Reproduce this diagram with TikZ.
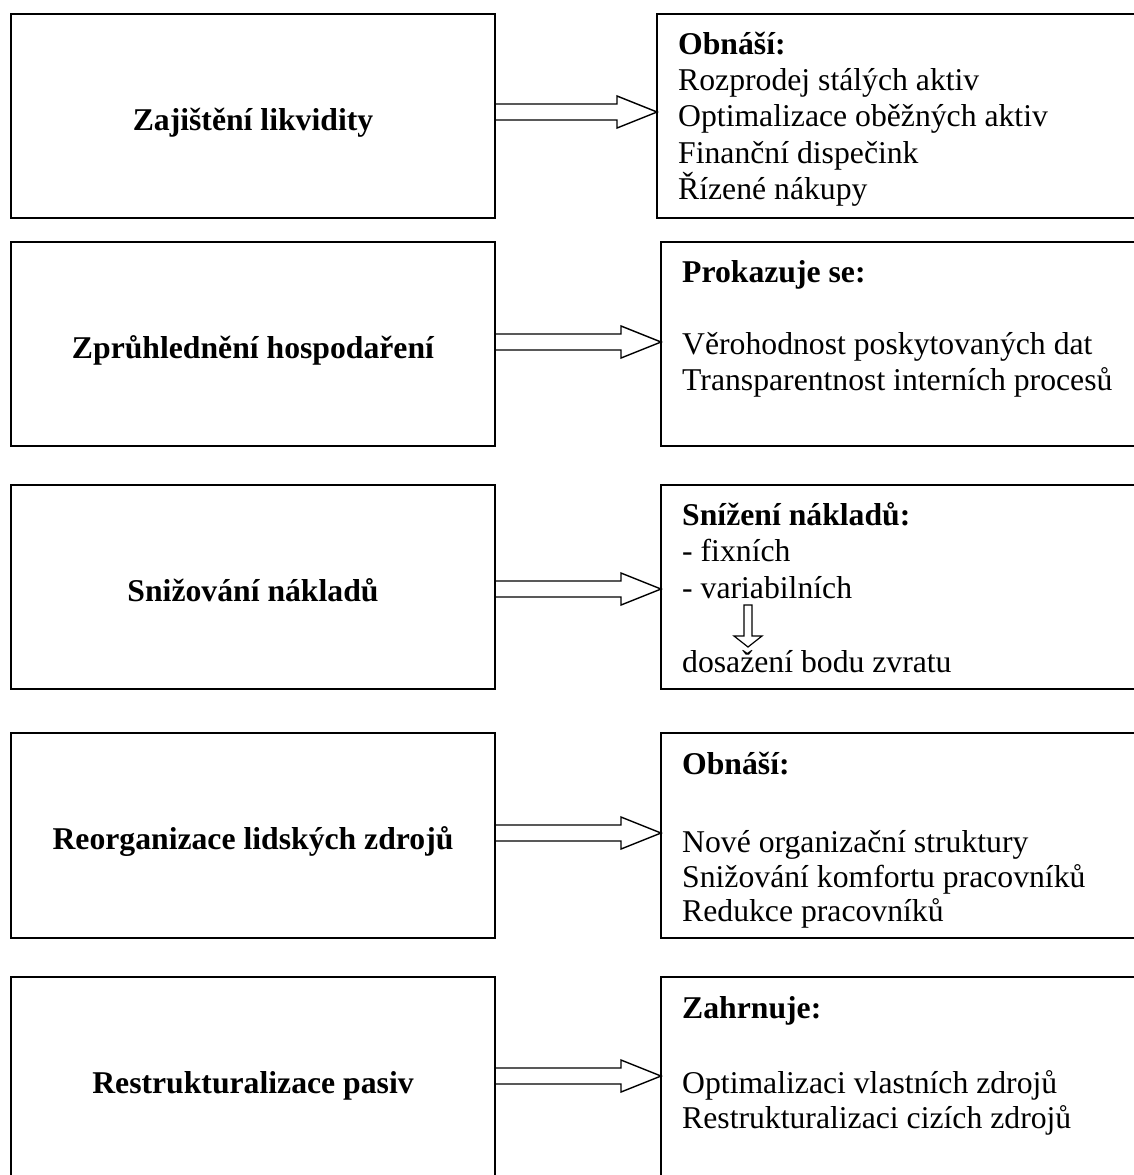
\documentclass[tikz,border=0pt]{standalone}
\usepackage{fontspec}
\setmainfont{Liberation Serif}
\usetikzlibrary{calc}
\newcommand\blockarr[3]{%
  \draw[arr] ($(#1.east |- 0,#3)+(0,-8)$)
    -- ($(#2.west |- 0,#3)+(-40,-8)$)
    -- ($(#2.west |- 0,#3)+(-40,-16)$)
    -- (#2.west |- 0,#3)
    -- ($(#2.west |- 0,#3)+(-40,16)$)
    -- ($(#2.west |- 0,#3)+(-40,8)$)
    -- ($(#1.east |- 0,#3)+(0,8)$);}
\begin{document}
\begin{tikzpicture}[x=1pt,y=-1pt,
  box/.style={draw,line width=1.8pt,anchor=north west,minimum height=204pt,inner sep=0pt,outer sep=0pt},
  lbox/.style={box,minimum width=484pt},
  rbox/.style={box,minimum width=490pt},
  lbl/.style={font=\fontsize{31.7}{36}\selectfont\bfseries,anchor=base,inner sep=0pt},
  txt/.style={font=\fontsize{31.7}{36}\selectfont,anchor=base west,inner sep=0pt},
  hd/.style={txt,font=\fontsize{31.7}{36}\selectfont\bfseries},
  arr/.style={line width=1.4pt,line join=miter}]
\useasboundingbox (0,0) rectangle (1134,1175);
\clip (0,0) rectangle (1134,1175);
% boxes
\node[lbox] (L1) at (11,14) {};
\node[rbox] (R1) at (657,14) {};
\node[lbox] (L2) at (11,242) {};
\node[rbox] (R2) at (661,242) {};
\node[lbox] (L3) at (11,485) {};
\node[rbox] (R3) at (661,485) {};
\node[lbox,minimum height=205pt] (L4) at (11,733) {};
\node[rbox,minimum height=205pt] (R4) at (661,733) {};
\node[lbox] (L5) at (11,977) {};
\node[rbox] (R5) at (661,977) {};
% left labels
\node[lbl] (t1) at ($(L1.center)+(0,14)$) {Zajištění likvidity};
\node[lbl] (t2) at ($(L2.center)+(0,14)$) {Zprůhlednění hospodaření};
\node[lbl] (t3) at ($(L3.center)+(0,14)$) {Snižování nákladů};
\node[lbl] (t4) at ($(L4.center)+(0,14)$) {Reorganizace lidských zdrojů};
\node[lbl] (t5) at ($(L5.center)+(0,14)$) {Restrukturalizace pasiv};
% right texts
\node[hd]  (a0) at (678,54)  {Obnáší:};
\node[txt] (a1) at (678,90)  {Rozprodej stálých aktiv};
\node[txt] (a2) at (678,126) {Optimalizace oběžných aktiv};
\node[txt] (a3) at (678,163) {Finanční dispečink};
\node[txt] (a4) at (678,199) {Řízené nákupy};
\node[hd]  (b0) at (682,282) {Prokazuje se:};
\node[txt] (b1) at (682,354) {Věrohodnost poskytovaných dat};
\node[txt] (b2) at (682,390) {Transparentnost interních procesů};
\node[hd]  (c0) at (682,525) {Snížení nákladů:};
\node[txt] (c1) at (682,561) {- fixních};
\node[txt] (c2) at (682,598) {- variabilních};
\node[txt] (c3) at (682,672) {dosažení bodu zvratu};
\node[hd]  (d0) at (682,774) {Obnáší:};
\node[txt] (d1) at (682,852) {Nové organizační struktury};
\node[txt] (d2) at (682,887) {Snižování komfortu pracovníků};
\node[txt] (d3) at (682,921) {Redukce pracovníků};
\node[hd]  (e0) at (682,1018) {Zahrnuje:};
\node[txt] (e1) at (682,1093) {Optimalizaci vlastních zdrojů};
\node[txt] (e2) at (682,1128) {Restrukturalizaci cizích zdrojů};
% block arrows
\blockarr{L1}{R1}{112}
\blockarr{L2}{R2}{342}
\blockarr{L3}{R3}{589}
\blockarr{L4}{R4}{833}
\blockarr{L5}{R5}{1076}
% small down arrow
\coordinate (da) at (748,605);
\coordinate (db) at (748,647);
\draw[line width=1.2pt,line join=miter] ($(da)+(-4,0)$) -- ($(db)+(-4,-11)$) -- ($(db)+(-14,-11)$) -- (db)
  -- ($(db)+(14,-11)$) -- ($(db)+(4,-11)$) -- ($(da)+(4,0)$) -- cycle;
\end{tikzpicture}
\end{document}
